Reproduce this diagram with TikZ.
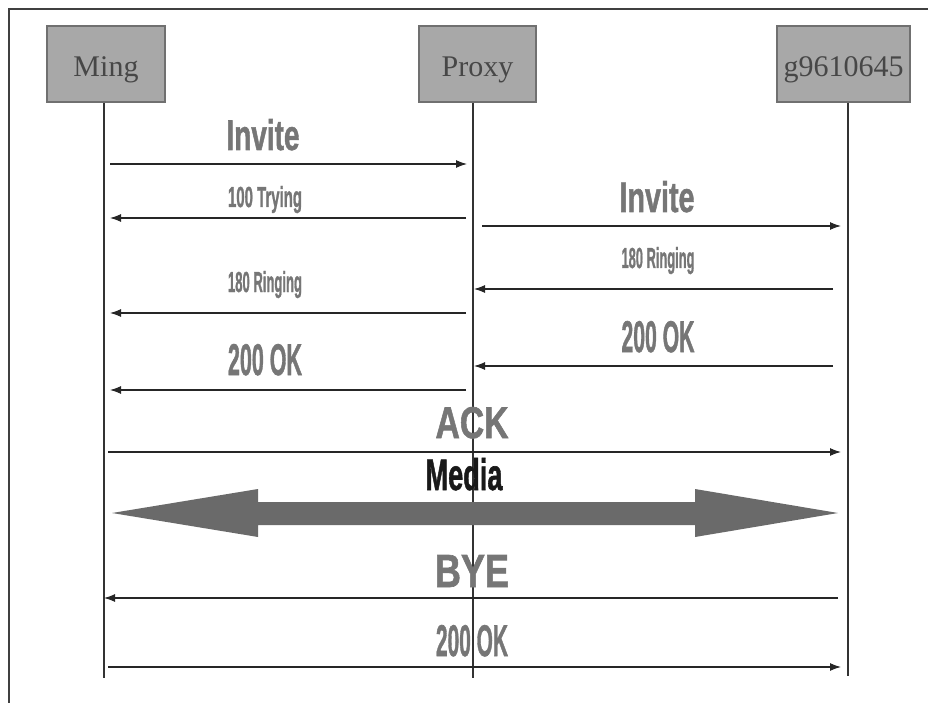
\documentclass[tikz,border=0pt]{standalone}
\usepackage{fontspec}
\setmainfont{Liberation Serif}
\newfontfamily\lblfont{Liberation Sans}[BoldFeatures={FakeBold=1.5}]
\usetikzlibrary{arrows.meta}
\definecolor{boxfill}{HTML}{A8A8A8}
\definecolor{boxline}{HTML}{707070}
\definecolor{lblgray}{HTML}{767676}
\definecolor{mediagray}{HTML}{6A6A6A}
% message label squeezed into a given width and height (in pt)
\newcommand\msglabel[3]{\resizebox{#1pt}{#2pt}{\lblfont\bfseries #3}}

\begin{document}
\begin{tikzpicture}[x=1pt,y=-1pt,
  actor/.style={draw=boxline, line width=1.5pt, fill=boxfill, inner sep=0pt,
    minimum height=76pt, text height=26pt, text depth=0pt,
    text=black!72, font=\fontsize{30}{31}\selectfont},
  life/.style={line width=1.1pt, draw=black!80},
  msgarrow/.style={line width=1.1pt, draw=black!85,
    -{Latex[length=11pt,width=8pt]}},
  lbl/.style={anchor=base, inner sep=0pt, text=lblgray},
]
\useasboundingbox (0,0) rectangle (928,703);

% outer frame
\draw[line width=1.2pt, black!75] (9,703) -- (9,9) -- (928,9);

% participants
\node[actor, minimum width=118pt] (ming)  at (106,64)   {Ming};
\node[actor, minimum width=117pt] (proxy) at (477.5,64) {Proxy};
\node[actor, minimum width=133pt] (gnode) at (843.5,64) {g9610645};

% lifelines
\coordinate (mlife) at (104,678);
\coordinate (plife) at (473,678);
\coordinate (glife) at (848,676);
\draw[life] (ming.south -| mlife)  -- (mlife);
\draw[life] (proxy.south -| plife) -- (plife);
\draw[life] (gnode.south -| glife) -- (glife);

% message end points
\coordinate (inv1a) at (110,164); \coordinate (inv1b) at (467,164);
\coordinate (try1a) at (466,218); \coordinate (try1b) at (110,218);
\coordinate (inv2a) at (482,226); \coordinate (inv2b) at (841,226);
\coordinate (rng2a) at (833,289); \coordinate (rng2b) at (474,289);
\coordinate (rng1a) at (466,313); \coordinate (rng1b) at (110,313);
\coordinate (ok2a)  at (833,366); \coordinate (ok2b)  at (474,366);
\coordinate (ok1a)  at (466,390); \coordinate (ok1b)  at (110,390);
\coordinate (acka)  at (108,452); \coordinate (ackb)  at (841,452);
\coordinate (byea)  at (838,598); \coordinate (byeb)  at (104,598);
\coordinate (ok3a)  at (108,667); \coordinate (ok3b)  at (841,667);

% messages
\draw[msgarrow] (inv1a) -- (inv1b);
\draw[msgarrow] (try1a) -- (try1b);
\draw[msgarrow] (inv2a) -- (inv2b);
\draw[msgarrow] (rng2a) -- (rng2b);
\draw[msgarrow] (rng1a) -- (rng1b);
\draw[msgarrow] (ok2a)  -- (ok2b);
\draw[msgarrow] (ok1a)  -- (ok1b);
\draw[msgarrow] (acka)  -- (ackb);
\draw[msgarrow] (byea)  -- (byeb);
\draw[msgarrow] (ok3a)  -- (ok3b);

% media stream (double-headed block arrow)
\fill[mediagray] (112,513) -- (258,489) -- (258,502) -- (695,502) -- (695,489)
  -- (838,513) -- (695,537) -- (695,525) -- (258,525) -- (258,537) -- cycle;

% labels
\node[lbl] (tinv1) at (263,150) {\msglabel{73}{31}{Invite}};
\node[lbl] (ttry1) at (265,207) {\msglabel{74}{21}{100 Trying}};
\node[lbl] (trng1) at (265,292) {\msglabel{74}{21}{180 Ringing}};
\node[lbl] (tok1)  at (265,375) {\msglabel{74}{31}{200 OK}};
\node[lbl] (tinv2) at (657,212) {\msglabel{75}{31}{Invite}};
\node[lbl] (trng2) at (658,268) {\msglabel{73}{21}{180 Ringing}};
\node[lbl] (tok2)  at (658,352) {\msglabel{73}{31}{200 OK}};
\node[lbl] (tack)  at (472,438) {\msglabel{73}{31}{ACK}};
\node[lbl, text=black!90] (tmedia) at (464,490) {\msglabel{77}{32}{Media}};
\node[lbl] (tbye)  at (472,587) {\msglabel{74}{32}{BYE}};
\node[lbl] (tok3)  at (472,656) {\msglabel{72}{31}{200 OK}};
\end{tikzpicture}
\end{document}
